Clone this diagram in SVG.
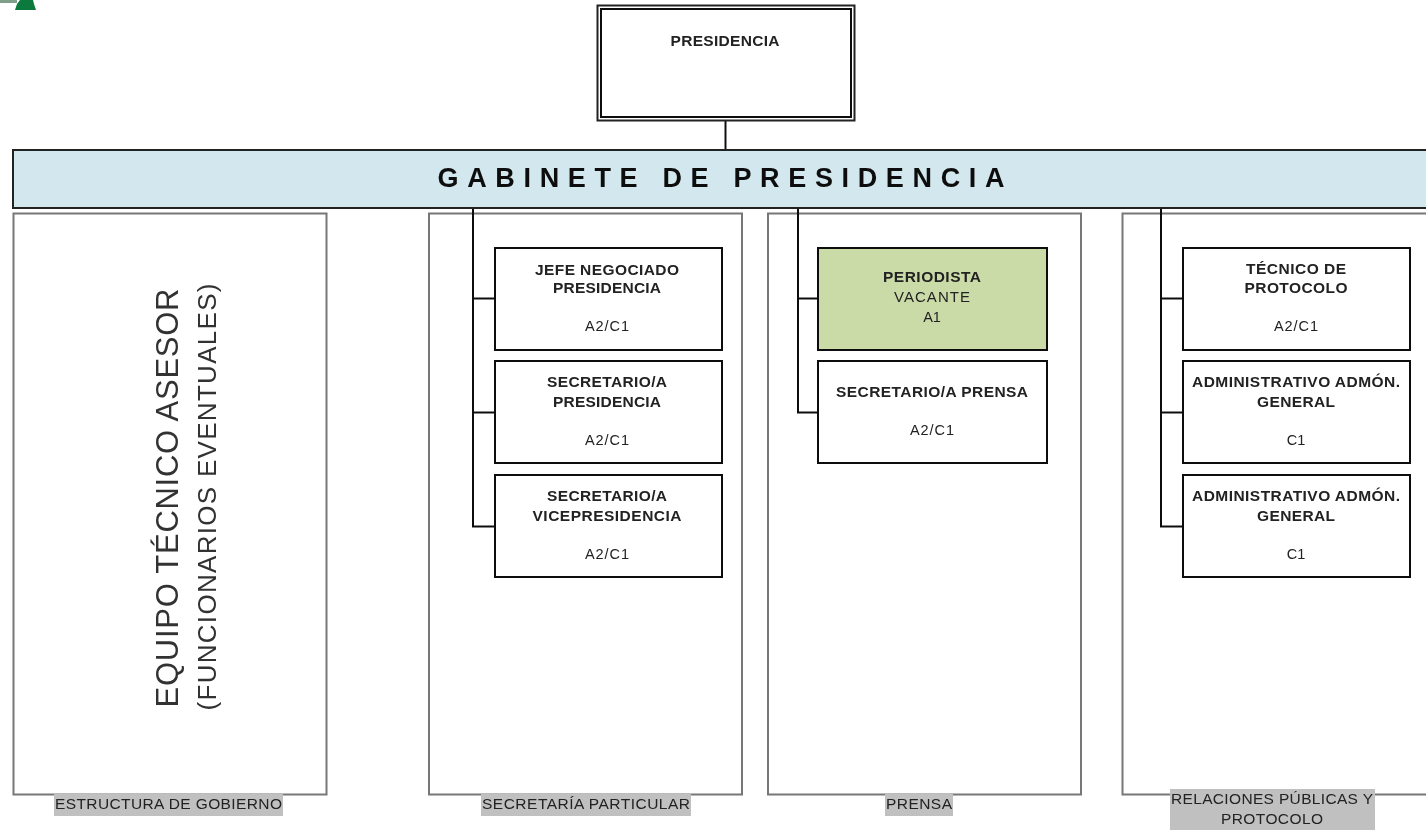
<svg xmlns="http://www.w3.org/2000/svg" width="1426" height="830" viewBox="0 0 1426 830">
<style>
text{font-family:"Liberation Sans",Arial,sans-serif;fill:#222;text-anchor:middle}
.b{font-weight:bold;font-size:15.500px}
.n{font-size:14.500px}
.box{fill:#fff;stroke:#111;stroke-width:2}
.pan{fill:#fff;stroke:#777;stroke-width:2}
.cap{fill:#c0c0c0}
.l{font-size:15.500px}
.c{fill:none;stroke:#111;stroke-width:2}
</style>
<defs><filter id="soft" x="0" y="0" width="100%" height="100%"><feGaussianBlur stdDeviation="0.4"/></filter></defs>
<rect width="1426" height="830" fill="#fff"/>
<g filter="url(#soft)">
<g id="logo"><rect x="0" y="0" width="17" height="3" fill="#7f9f8a"/><polygon points="20,0 33,0 34,4 36,10 15,10 17,4" fill="#0a7a3c"/></g>
<g id="panel-gobierno"><rect class="pan" x="13.500" y="213.500" width="313" height="581"/>
<text transform="translate(178,498) rotate(-90)" font-size="31" style="fill:#333" textLength="419">EQUIPO TÉCNICO ASESOR</text>
<text transform="translate(216,497) rotate(-90)" font-size="26" style="fill:#333" textLength="427">(FUNCIONARIOS EVENTUALES)</text>
<rect class="cap" x="54" y="794" width="229" height="22"/><text class="l" x="168.500" y="809" textLength="227">ESTRUCTURA DE GOBIERNO</text></g>
<g id="panel-secretaria"><rect class="pan" x="429" y="213.500" width="313" height="581"/>
<rect class="cap" x="481" y="794" width="210" height="22"/><text class="l" x="586" y="809" textLength="208">SECRETARÍA PARTICULAR</text></g>
<g id="panel-prensa"><rect class="pan" x="768" y="213.500" width="313" height="581"/>
<rect class="cap" x="885" y="794" width="68" height="22"/><text class="l" x="919" y="809" textLength="66">PRENSA</text></g>
<g id="panel-relaciones"><path class="pan" d="M1428 213.500H1122.500V794.500H1428"/>
<rect class="cap" x="1170" y="789" width="205" height="41"/><text class="l" x="1272" y="804" textLength="202">RELACIONES PÚBLICAS Y</text><text class="l" x="1272" y="824" textLength="102">PROTOCOLO</text></g>
<g id="connectors">
<path class="c" d="M725.500 120V150M473 208V526.500H495M473 298.500H495M473 412.500H495M798 208V412.500H818M798 298.500H818M1161 208V526.500H1183M1161 298.500H1183M1161 412.500H1183"/>
</g>
<g id="presidencia"><rect x="597.500" y="5.500" width="257" height="115" fill="#fff" stroke="#222" stroke-width="2"/><rect x="601" y="9" width="250" height="108" fill="#fff" stroke="#111" stroke-width="2"/>
<text class="b" x="725" y="46" textLength="109">PRESIDENCIA</text></g>
<g id="gabinete"><rect x="13" y="150" width="1416" height="58" fill="#d2e8ee" stroke="#222" stroke-width="2"/>
<text x="721" y="187" font-size="27" font-weight="bold" style="fill:#111" textLength="567">GABINETE DE PRESIDENCIA</text></g>
<g id="jefe"><rect class="box" x="495" y="248" width="227" height="102"/><text class="b" x="607" y="275" textLength="144">JEFE NEGOCIADO</text><text class="b" x="607" y="293" textLength="108">PRESIDENCIA</text><text class="n" x="607" y="331" textLength="44">A2/C1</text></g>
<g id="sec-presidencia"><rect class="box" x="495" y="361" width="227" height="102"/><text class="b" x="607" y="387" textLength="120">SECRETARIO/A</text><text class="b" x="607" y="407" textLength="108">PRESIDENCIA</text><text class="n" x="607" y="445" textLength="44">A2/C1</text></g>
<g id="sec-vice"><rect class="box" x="495" y="475" width="227" height="102"/><text class="b" x="607" y="501" textLength="120">SECRETARIO/A</text><text class="b" x="607" y="521" textLength="149">VICEPRESIDENCIA</text><text class="n" x="607" y="559" textLength="44">A2/C1</text></g>
<g id="periodista"><rect class="box" x="818" y="248" width="229" height="102" style="fill:#cbdba8"/><text class="b" x="932" y="282" textLength="98">PERIODISTA</text><text class="n" x="932" y="302" textLength="76" style="font-size:15px">VACANTE</text><text class="n" x="932" y="322">A1</text></g>
<g id="sec-prensa"><rect class="box" x="818" y="361" width="229" height="102"/><text class="b" x="932" y="397" textLength="192">SECRETARIO/A PRENSA</text><text class="n" x="932" y="435" textLength="44">A2/C1</text></g>
<g id="tecnico"><rect class="box" x="1183" y="248" width="227" height="102"/><text class="b" x="1296" y="274" textLength="100">TÉCNICO DE</text><text class="b" x="1296" y="293" textLength="103">PROTOCOLO</text><text class="n" x="1296" y="331" textLength="44">A2/C1</text></g>
<g id="admin-1"><rect class="box" x="1183" y="361" width="227" height="102"/><text class="b" x="1296" y="387" textLength="208">ADMINISTRATIVO ADMÓN.</text><text class="b" x="1296" y="407" textLength="78">GENERAL</text><text class="n" x="1296" y="445">C1</text></g>
<g id="admin-2"><rect class="box" x="1183" y="475" width="227" height="102"/><text class="b" x="1296" y="501" textLength="208">ADMINISTRATIVO ADMÓN.</text><text class="b" x="1296" y="521" textLength="78">GENERAL</text><text class="n" x="1296" y="559">C1</text></g>
</g>
</svg>
